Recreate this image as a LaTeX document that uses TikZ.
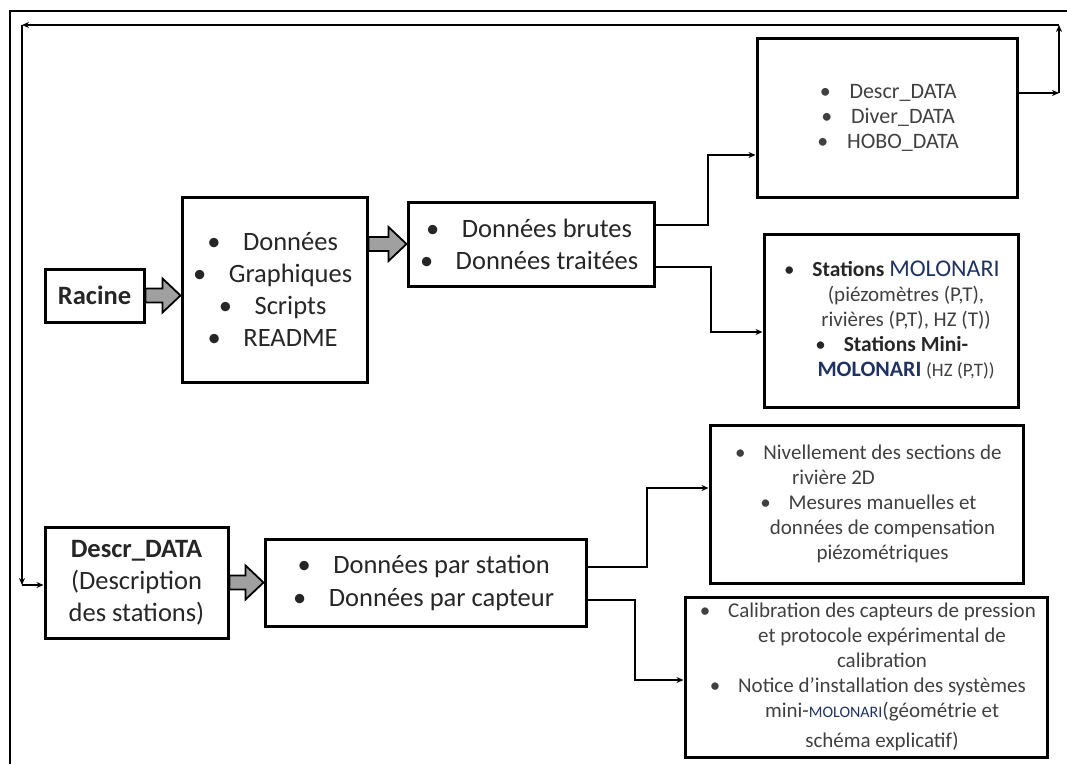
\documentclass[tikz,border=0pt]{standalone}
\usepackage{fontspec}
\setmainfont{Carlito}
\usetikzlibrary{arrows.meta,calc}

\definecolor{encre}{RGB}{38,38,38}
\definecolor{grisliste}{RGB}{64,64,64}
\definecolor{marine}{RGB}{31,50,99}
\definecolor{flechegris}{RGB}{160,160,160}

\newcommand{\puce}{\leavevmode\llap{\textbullet\hspace{0.85em}}}

\tikzset{
  boite/.style={draw, line width=3pt, inner sep=0pt, align=center, text=encre},
  liste/.style={xshift=16pt, align=center, inner sep=0pt, text=encre},
  lien/.style={line width=2.4pt, -{Stealth[length=7pt,width=6pt]}},
  fleche/.style={draw=black, line width=1.8pt, fill=flechegris,
    to path={let \p1=(\tikztostart), \p2=(\tikztotarget) in
      (\x1,{\y1+7pt}) -- ({\x2-18pt},{\y1+7pt}) -- ({\x2-18pt},{\y1+17pt}) -- (\x2,\y1)
      -- ({\x2-18pt},{\y1-17pt}) -- ({\x2-18pt},{\y1-7pt}) -- (\x1,{\y1-7pt}) -- cycle}}
}

\begin{document}
\begin{tikzpicture}[x=1pt, y=-1pt]
  \useasboundingbox (0,0) rectangle (1067,764);

  % Cadre
  \draw[line width=2pt] (10,764) -- (10,11) -- (1067,11);

  % Racine et contenu
  \node[boite, minimum width=99pt, minimum height=53pt, font=\fontsize{26.5}{32}\selectfont\bfseries] (racine) at (94.5,295.5) {Racine};
  \node[boite, minimum width=185pt, minimum height=185pt,
    label={[liste, font=\fontsize{26.5}{32}\selectfont]center:{\puce Données\\ \puce Graphiques\\ \puce Scripts\\ \puce README}}] (contenu) at (274.5,289.5) {};
  \node[boite, minimum width=246pt, minimum height=84pt,
    label={[liste, font=\fontsize{26.5}{32}\selectfont]center:{\puce Données brutes\\ \puce Données traitées}}] (traitement) at (531,244) {};

  % Capteurs
  \node[boite, minimum width=260pt, minimum height=159pt,
    label={[liste, text=grisliste, font=\fontsize{22}{25}\selectfont]center:{\puce Descr\_DATA\\ \puce Diver\_DATA\\ \puce HOBO\_DATA}}] (capteurs) at (887,117.5) {};
  \node[boite, minimum width=254pt, minimum height=173pt,
    label={[liste, xshift=-1pt, font=\fontsize{21}{25}\selectfont]center:{\puce{\fontsize{21.5}{25}\selectfont\bfseries Stations} {\fontsize{24}{25}\selectfont\color{marine}MOLONARI}\\
      {\color{grisliste}(piézomètres (P,T),}\\
      {\color{grisliste}rivières (P,T), HZ (T))}\\
      \puce{\fontsize{21.5}{25}\selectfont\bfseries Stations Mini-}\\
      {\fontsize{22}{25}\selectfont\bfseries\color{marine}MOLONARI} {\fontsize{19}{25}\selectfont\color{grisliste}(HZ (P,T))}}}] (stations) at (891,320.5) {};

  % Description des stations
  \node[boite, minimum width=183pt, minimum height=111pt, font=\fontsize{26.5}{32}\selectfont] (descr) at (136.5,582.5) {\textbf{Descr\_DATA}\\(Description\\des stations)};
  \node[boite, minimum width=321pt, minimum height=87pt,
    label={[liste, font=\fontsize{26.5}{33}\selectfont]center:{\puce Données par station\\ \puce Données par capteur}}] (donnees) at (425.5,582.5) {};
  \node[boite, minimum width=313pt, minimum height=158pt,
    label={[liste, text=grisliste, font=\fontsize{21}{25}\selectfont]center:{\puce Nivellement des sections de\\
      rivière 2D\hspace{98pt}\mbox{}\\
      \puce Mesures manuelles et\\
      données de compensation\\
      piézométriques}}] (nivel) at (866.5,504) {};
  \node[boite, minimum width=362pt, minimum height=160pt,
    label={[liste, text=grisliste, font=\fontsize{21}{25}\selectfont]center:{\puce Calibration des capteurs de pression\\
      et protocole expérimental de\\
      calibration\\
      \puce Notice d’installation des systèmes\\
      mini-{\fontsize{16}{25}\selectfont\color{marine}MOLONARI}(géométrie et\\[5pt]
      schéma explicatif)}}] (calib) at (866,677) {};

  % Grosses fleches
  \draw[fleche] (racine.east) to (contenu.west);
  \draw[fleche] (contenu.east |- traitement.west) to (traitement.west);
  \draw[fleche] (descr.east) to (donnees.west);

  % Liens
  \draw[lien] (traitement.east |- 0,225) -- (708,225) |- (capteurs.west |- 0,155);
  \draw[lien] (traitement.east |- 0,267) -- (711,267) |- (stations.west |- 0,332);
  \draw[lien] (donnees.east |- 0,567) -- (647,567) |- (nivel.west |- 0,488);
  \draw[lien] (donnees.east |- 0,600) -- (635,600) |- (calib.west |- 0,680);

  % Retour vers Descr_DATA
  \coordinate (r1) at (1059,93);
  \coordinate (r2) at (1059,25);
  \coordinate (l1) at (22,25);
  \coordinate (l2) at (22,585);
  \draw[lien] (r1 -| capteurs.east) -- (r1);
  \draw[lien] (r1) -- (r2);
  \draw[lien] (r2) -- (l1);
  \draw[lien] (l1) -- (l2);
  \draw[lien] (l2) -- (l2 -| descr.west);
\end{tikzpicture}
\end{document}
